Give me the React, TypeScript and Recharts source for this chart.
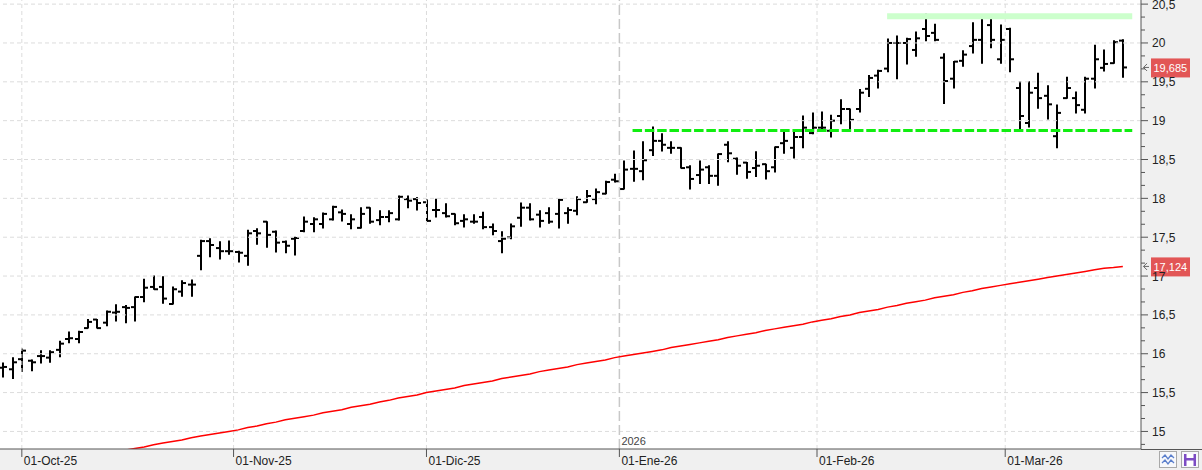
import React from "react";
import { ComposedChart, Bar, Line, XAxis, YAxis, ReferenceLine } from "recharts";

// OHLC diario, 29-sep-25 .. 18-mar-26 (120 sesiones)
const open = [
  15.82, 15.80, 15.93, 15.91, 15.97, 15.95, 16.05, 16.19, 16.19, 16.33,
  16.44, 16.40, 16.53, 16.60, 16.60, 16.73, 16.86, 16.86, 16.64, 16.80,
  16.89, 17.26, 17.45, 17.36, 17.32, 17.31, 17.26, 17.58, 17.70, 17.57,
  17.44, 17.48, 17.58, 17.67, 17.67, 17.73, 17.82, 17.67, 17.62, 17.88,
  17.72, 17.76, 17.73, 17.99, 17.99, 17.95, 17.85, 17.81, 17.80, 17.71,
  17.70, 17.76, 17.63, 17.45, 17.50, 17.75, 17.88, 17.79, 17.81, 17.80,
  17.81, 17.84, 17.95, 17.99, 18.06, 18.24, 18.12, 18.38, 18.35, 18.62,
  18.74, 18.65, 18.65, 18.40, 18.30, 18.40, 18.29, 18.69, 18.51, 18.46,
  18.39, 18.44, 18.40, 18.71, 18.65, 18.79, 18.84, 18.91, 18.87, 19.06,
  19.15, 19.15, 19.41, 19.58, 19.67, 20.00, 20.00, 19.91, 20.18, 20.13,
  19.81, 19.54, 19.77, 19.96, 20.04, 20.23, 19.79, 20.18, 19.42, 18.97,
  19.42, 19.32, 18.80, 19.29, 19.29, 19.14, 19.54, 19.68, 19.74, 20.03,
];
const high = [
  15.88, 15.95, 16.06, 15.92, 16.04, 16.04, 16.16, 16.28, 16.29, 16.44,
  16.44, 16.55, 16.63, 16.62, 16.73, 16.96, 17.00, 16.99, 16.86, 16.94,
  16.95, 17.46, 17.48, 17.44, 17.45, 17.32, 17.59, 17.61, 17.70, 17.58,
  17.45, 17.50, 17.76, 17.75, 17.81, 17.90, 17.85, 17.79, 17.88, 17.88,
  17.84, 17.84, 18.03, 18.03, 18.01, 17.98, 17.99, 17.93, 17.80, 17.79,
  17.79, 17.82, 17.67, 17.57, 17.67, 17.94, 17.93, 17.84, 17.88, 17.99,
  17.88, 18.02, 18.10, 18.12, 18.22, 18.31, 18.48, 18.61, 18.73, 18.92,
  18.83, 18.73, 18.65, 18.42, 18.48, 18.42, 18.57, 18.73, 18.52, 18.46,
  18.60, 18.44, 18.66, 18.85, 18.87, 19.06, 19.10, 19.11, 19.07, 19.27,
  19.15, 19.40, 19.58, 19.65, 20.05, 20.09, 20.06, 20.14, 20.37, 20.24,
  19.86, 19.76, 19.90, 20.26, 20.35, 20.31, 20.23, 20.19, 19.50, 19.50,
  19.61, 19.45, 19.20, 19.56, 19.37, 19.56, 19.97, 19.91, 20.03, 20.04,
];
const low = [
  15.70, 15.68, 15.77, 15.78, 15.88, 15.89, 15.96, 16.14, 16.14, 16.33,
  16.33, 16.36, 16.42, 16.40, 16.42, 16.67, 16.83, 16.65, 16.64, 16.74,
  16.74, 17.08, 17.25, 17.22, 17.28, 17.18, 17.14, 17.41, 17.37, 17.31,
  17.30, 17.27, 17.57, 17.57, 17.62, 17.72, 17.71, 17.61, 17.62, 17.68,
  17.66, 17.70, 17.72, 17.88, 17.85, 17.71, 17.76, 17.76, 17.66, 17.63,
  17.68, 17.61, 17.53, 17.30, 17.48, 17.64, 17.72, 17.63, 17.68, 17.62,
  17.68, 17.79, 17.95, 17.93, 18.06, 18.21, 18.12, 18.22, 18.24, 18.55,
  18.61, 18.58, 18.39, 18.12, 18.19, 18.19, 18.17, 18.47, 18.31, 18.26,
  18.28, 18.25, 18.34, 18.58, 18.52, 18.65, 18.83, 18.89, 18.79, 18.96,
  18.89, 19.11, 19.31, 19.42, 19.63, 19.54, 19.73, 19.83, 20.03, 20.03,
  19.22, 19.42, 19.70, 19.87, 19.74, 19.94, 19.74, 19.63, 18.89, 18.92,
  19.16, 19.02, 18.65, 19.29, 19.10, 19.10, 19.42, 19.64, 19.74, 19.56,
];
const close = [
  15.83, 15.89, 16.04, 15.89, 15.97, 16.02, 16.13, 16.20, 16.28, 16.41,
  16.33, 16.54, 16.54, 16.59, 16.73, 16.85, 16.83, 16.71, 16.83, 16.91,
  16.89, 17.45, 17.40, 17.32, 17.32, 17.30, 17.55, 17.55, 17.53, 17.43,
  17.39, 17.49, 17.70, 17.73, 17.80, 17.89, 17.80, 17.73, 17.80, 17.70,
  17.76, 17.81, 18.02, 17.97, 17.94, 17.71, 17.85, 17.77, 17.68, 17.73,
  17.70, 17.63, 17.58, 17.48, 17.64, 17.88, 17.73, 17.71, 17.70, 17.98,
  17.85, 17.99, 18.03, 18.08, 18.21, 18.22, 18.37, 18.38, 18.49, 18.74,
  18.69, 18.65, 18.39, 18.25, 18.37, 18.29, 18.57, 18.58, 18.42, 18.34,
  18.42, 18.35, 18.66, 18.74, 18.79, 18.91, 18.91, 18.91, 19.00, 19.15,
  19.01, 19.36, 19.55, 19.64, 20.00, 20.00, 20.05, 20.06, 20.09, 20.04,
  19.51, 19.76, 19.85, 20.04, 20.35, 20.04, 20.04, 19.79, 19.06, 19.36,
  19.29, 19.21, 19.10, 19.42, 19.20, 19.54, 19.79, 19.73, 20.01, 19.685,
];
// media movil (linea roja)
const media = [
  14.49, 14.51, 14.53, 14.55, 14.57, 14.59, 14.61, 14.63, 14.65, 14.67,
  14.69, 14.71, 14.73, 14.76, 14.78, 14.80, 14.83, 14.85, 14.87, 14.89,
  14.92, 14.94, 14.96, 14.98, 15.00, 15.02, 15.05, 15.07, 15.10, 15.12,
  15.15, 15.17, 15.19, 15.21, 15.24, 15.26, 15.28, 15.31, 15.33, 15.35,
  15.38, 15.40, 15.43, 15.45, 15.47, 15.50, 15.52, 15.54, 15.56, 15.59,
  15.61, 15.63, 15.65, 15.68, 15.70, 15.72, 15.74, 15.77, 15.79, 15.81,
  15.83, 15.86, 15.88, 15.90, 15.92, 15.95, 15.97, 15.99, 16.01, 16.03,
  16.05, 16.08, 16.10, 16.12, 16.14, 16.16, 16.18, 16.21, 16.23, 16.25,
  16.27, 16.30, 16.32, 16.34, 16.36, 16.38, 16.41, 16.43, 16.45, 16.48,
  16.50, 16.53, 16.55, 16.57, 16.60, 16.62, 16.65, 16.67, 16.69, 16.72,
  16.74, 16.76, 16.79, 16.81, 16.84, 16.86, 16.88, 16.90, 16.92, 16.94,
  16.96, 16.98, 17.00, 17.02, 17.04, 17.06, 17.08, 17.10, 17.11, 17.124,
];

// eje X: posicion (indice de sesion) y texto de cada mes
const mesesIdx = [2, 24.5, 45, 65.5, 86.5, 106.5];
const mesesTxt = ["01-Oct-25", "01-Nov-25", "01-Dic-25", "01-Ene-26", "01-Feb-26", "01-Mar-26"];
const anioIdx = 65.5;

// eje Y
const yMayores = [15, 15.5, 16, 16.5, 17, 17.5, 18, 18.5, 19, 19.5, 20, 20.5];
const yMenores = [
  14.8333, 15.1667, 15.3333, 15.6667, 15.8333, 16.1667, 16.3333, 16.6667, 16.8333,
  17.1667, 17.3333, 17.6667, 17.8333, 18.1667, 18.3333, 18.6667, 18.8333, 19.1667,
  19.3333, 19.6667, 19.8333, 20.1667, 20.3333,
];

// lineas horizontales (resistencia / soporte)
const resistencia = 20.345;
const resistenciaIdx = [93.95, 120.0];
const soporte = 18.873;
const soporteIdx = [66.9, 120.0];

const ultimoPrecio = 19.685;
const ultimaMedia = 17.124;

const FONT = "'Liberation Sans', Arial, sans-serif";

const data = open.map((o, i) => ({
  i,
  o,
  h: high[i],
  l: low[i],
  c: close[i],
  rango: [low[i], high[i]],
  ma: media[i],
}));

const fmt = (v: number) => String(v).replace(".", ",");

const BarraOHLC = (props: any) => {
  const { x, y, width, height, payload } = props;
  if (x == null || y == null || !payload) return null;
  const { h, l, o, c } = payload;
  const k = h > l ? height / (h - l) : 0;
  const cx = Math.round(x + width / 2);
  const yo = y + (h - o) * k;
  const yc = y + (h - c) * k;
  return (
    <g stroke="#000" strokeWidth={2}>
      <line x1={cx} y1={y - 0.5} x2={cx} y2={y + height + 0.5} />
      <line x1={cx - 4} y1={yo} x2={cx} y2={yo} />
      <line x1={cx} y1={yc} x2={cx + 4} y2={yc} />
    </g>
  );
};

const TickX = (props: any) => {
  const { x, y, payload } = props;
  const idx = mesesIdx.indexOf(payload.value);
  return (
    <g>
      <line x1={x} y1={y} x2={x} y2={y + 8} stroke="#555" />
      <text x={x + 2} y={y + 16} fontSize={12} fill="#222" fontFamily={FONT}>
        {mesesTxt[idx]}
      </text>
    </g>
  );
};

const TickY = (props: any) => {
  const { x, y, payload } = props;
  const v = payload.value;
  const mayor = yMayores.includes(v);
  return (
    <g>
      <line x1={x} y1={y} x2={x + (mayor ? 7 : 4)} y2={y} stroke="#555" />
      {mayor && (
        <text x={x + 11} y={y + 4.5} fontSize={12} fill="#222" fontFamily={FONT}>
          {fmt(v)}
        </text>
      )}
    </g>
  );
};

const EtiquetaPrecio = (texto: string) => (props: any) => {
  const vb = props.viewBox || {};
  const right = (vb.x || 0) + (vb.width || 0);
  const y = vb.y || 0;
  return (
    <g>
      <path
        d={`M${right + 6},${y - 3.5} L${right + 2.5},${y} L${right + 6},${y + 3.5} M${right + 2.5},${y} L${right + 8},${y}`}
        stroke="#666"
        fill="none"
      />
      <rect x={right + 10} y={y - 9} width={39} height={19} fill="#e25656" />
      <text x={right + 12.5} y={y + 4.5} fontSize={11} fill="#fff" fontFamily={FONT}>
        {texto}
      </text>
    </g>
  );
};

const EtiquetaAnio = (props: any) => {
  const vb = props.viewBox || {};
  return (
    <text x={(vb.x || 0) + 2} y={(vb.y || 0) + (vb.height || 0) - 4} fontSize={11} fill="#444" fontFamily={FONT}>
      2026
    </text>
  );
};

export default function App() {
  return (
    <div
      style={{
        position: "absolute",
        left: 0,
        top: 0,
        width: 1202,
        height: 470,
        background: "#f0f0f0",
        overflow: "hidden",
      }}
    >
      <div style={{ position: "absolute", left: 0, top: 0, width: 1141, height: 449, background: "#fff" }} />
      <div style={{ position: "absolute", left: 1141, top: 449, width: 61, height: 1, background: "#555" }} />
      <div style={{ position: "absolute", left: 0, top: 0 }}>
        <ComposedChart width={1202} height={470} data={data} margin={{ top: 0, right: 0, bottom: 0, left: 0 }}>
          {yMayores.map((v) => (
            <ReferenceLine key={"h" + v} y={v} stroke="#dcdcdc" strokeDasharray="4 3" />
          ))}
          {mesesIdx
            .filter((v) => v !== anioIdx)
            .map((v) => (
              <ReferenceLine key={"v" + v} x={v} stroke="#dcdcdc" strokeDasharray="4 3" />
            ))}
          <ReferenceLine x={anioIdx} stroke="#c8c8c8" strokeWidth={1.5} strokeDasharray="10 4" label={EtiquetaAnio} />
          <XAxis
            dataKey="i"
            type="number"
            domain={[-0.32, 120.93]}
            allowDataOverflow
            ticks={mesesIdx}
            interval={0}
            tick={<TickX />}
            tickLine={false}
            tickSize={0}
            tickMargin={0}
            axisLine={{ stroke: "#555" }}
            height={21}
          />
          <YAxis
            orientation="right"
            type="number"
            domain={[14.774, 20.553]}
            allowDataOverflow
            ticks={[...yMenores, ...yMayores]}
            interval={0}
            tick={<TickY />}
            tickLine={false}
            tickSize={0}
            tickMargin={0}
            axisLine={{ stroke: "#555" }}
            width={61}
          />
          <ReferenceLine
            segment={[
              { x: resistenciaIdx[0], y: resistencia },
              { x: resistenciaIdx[1], y: resistencia },
            ]}
            stroke="#ccffcc"
            strokeWidth={6}
          />
          <ReferenceLine
            segment={[
              { x: soporteIdx[0], y: soporte },
              { x: soporteIdx[1], y: soporte },
            ]}
            stroke="#11ee11"
            strokeWidth={3}
            strokeDasharray="9.5 2.8"
          />
          <Bar dataKey="rango" barSize={8} shape={<BarraOHLC />} isAnimationActive={false} />
          <Line
            type="linear"
            dataKey="ma"
            stroke="#ff0000"
            strokeWidth={1.5}
            dot={false}
            activeDot={false}
            isAnimationActive={false}
          />
          <ReferenceLine y={ultimaMedia} stroke="none" label={EtiquetaPrecio(fmt(ultimaMedia))} />
          <ReferenceLine y={ultimoPrecio} stroke="none" label={EtiquetaPrecio(fmt(ultimoPrecio))} />
        </ComposedChart>
      </div>
      <svg style={{ position: "absolute", left: 1158, top: 450 }} width={44} height={20}>
        <rect x={1.5} y={1.5} width={17} height={16} fill="#f7f8fb" stroke="#a9a9a9" />
        <path d="M4,8 L7,5 L10,9 L13,5 L16,8" stroke="#5b7fcc" fill="none" strokeWidth={1.3} />
        <path d="M4,13 L7,10 L10,14 L13,10 L16,13" stroke="#5b7fcc" fill="none" strokeWidth={1.3} />
        <rect x={23.5} y={1.5} width={17} height={16} fill="#f7f8fb" stroke="#a9a9a9" />
        <rect x={26} y={4} width={12} height={12} fill="#7d4cc4" />
        <rect x={28.5} y={4} width={7} height={4} fill="#ffffff" />
        <rect x={28.5} y={10.5} width={7} height={5.5} fill="#ffffff" />
      </svg>
    </div>
  );
}
